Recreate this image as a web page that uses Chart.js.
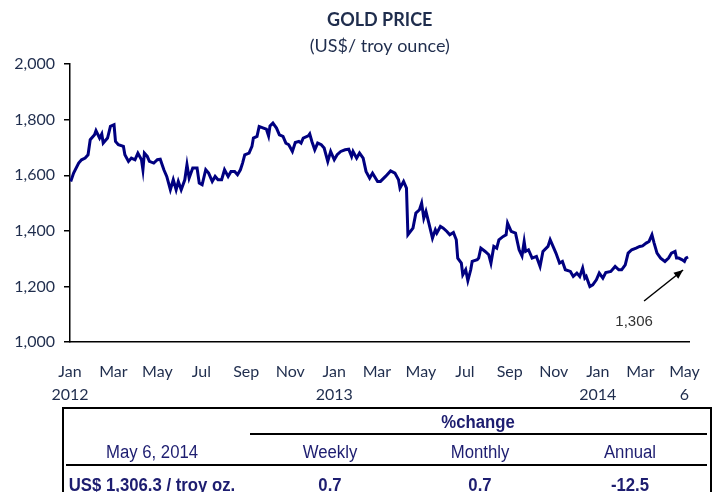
<!DOCTYPE html>
<html>
<head>
<meta charset="utf-8">
<script src="https://cdn.jsdelivr.net/npm/chart.js@4"></script>
<style>
  body { margin: 0; background: #fff; }
  #wrap { position: relative; width: 718px; height: 492px; overflow: hidden; }
  #myChart { position: absolute; left: 0; top: 0; }
  #box { position: absolute; left: 62px; top: 407px; width: 646px; height: 100px;
         border: 2px solid #000; border-bottom: none; }
  .rule { position: absolute; height: 0; border-top: 2px solid #000; }
  .cell { position: absolute; width: 200px; margin-left: -100px; text-align: center;
          font-family: 'Liberation Sans Narrow', 'Arial Narrow', 'Liberation Sans', sans-serif;
          font-size: 18px; color: #1d1d70; white-space: nowrap; transform: scaleX(0.93); }
  .bold { font-weight: bold; }
</style>
</head>
<body>
<div id="wrap">
  <canvas id="myChart" width="718" height="408"></canvas>
  <div id="box"></div>
  <div id="table"></div>
</div>
<script>
// days counted from 1 Jan 2012, gold price in US$ per troy ounce
var days = [1,5,12,16,21,25,28,34,36,41,44,46,52,56,61,63,67,74,76,81,85,90,94,99,101,103,107,110,116,121,125,130,134,139,143,147,150,154,159,162,165,170,176,179,183,188,192,197,201,205,210,214,219,223,228,232,236,239,242,248,252,254,259,262,268,272,275,277,281,286,290,295,299,303,308,312,317,320,323,330,332,335,339,343,348,352,357,361,366,370,375,381,386,390,392,397,401,406,410,415,419,426,430,437,444,450,455,457,462,466,468,475,479,484,487,490,493,497,502,506,508,513,517,522,526,531,535,537,542,544,548,551,555,557,564,566,569,575,580,583,587,591,594,600,604,606,611,617,622,626,629,631,635,640,646,651,655,662,665,669,673,678,682,686,693,697,702,706,710,713,715,720,724,729,733,738,742,749,755,760,764,769,773,778,784,789,793,798,802,806,809,813,818,824,829,833,838,840,843,848,851,853,856];
var prices = [1578,1608,1644,1656,1662,1674,1728,1746,1761,1734,1749,1716,1734,1776,1782,1722,1710,1704,1674,1650,1662,1656,1680,1656,1620,1680,1668,1650,1644,1656,1658,1620,1596,1548,1584,1548,1578,1548,1584,1638,1590,1626,1626,1572,1566,1620,1608,1578,1596,1584,1584,1620,1596,1614,1614,1602,1620,1644,1674,1680,1704,1734,1740,1776,1770,1766,1742,1778,1788,1770,1746,1740,1716,1710,1686,1718,1722,1716,1734,1742,1749,1722,1692,1716,1710,1698,1650,1686,1656,1674,1686,1692,1694,1668,1686,1662,1680,1662,1614,1590,1608,1578,1578,1596,1616,1608,1584,1554,1578,1554,1386,1410,1464,1476,1500,1446,1470,1428,1374,1404,1392,1416,1410,1398,1386,1394,1368,1302,1284,1242,1260,1221,1260,1290,1296,1302,1338,1326,1314,1284,1344,1338,1368,1380,1386,1428,1398,1392,1332,1310,1362,1326,1332,1302,1308,1272,1326,1344,1368,1344,1320,1284,1290,1260,1254,1236,1248,1236,1266,1230,1236,1200,1206,1224,1248,1230,1250,1254,1272,1260,1260,1278,1320,1332,1338,1344,1346,1356,1362,1386,1356,1320,1302,1290,1302,1320,1326,1302,1302,1296,1290,1302,1306];

// x-axis labels: first day of every second month
var tickDays = [0, 60, 121, 182, 244, 305, 366, 425, 486, 547, 609, 670, 731, 790, 851];
var tickMonths = ['Jan','Mar','May','Jul','Sep','Nov','Jan','Mar','May','Jul','Sep','Nov','Jan','Mar','May'];
var tickYears = ['2012','','','','','','2013','','','','','','2014','','6'];

// summary table
var tableDate = 'May 6, 2014';
var tableLevel = 'US$ 1,306.3 / troy oz.';
var changeHeads = ['Weekly', 'Monthly', 'Annual'];
var changeValues = ['0.7', '0.7', '-12.5'];

var textColor = '#1f2d4d';

var points = days.map(function (d, i) { return {x: d, y: prices[i]}; });

// arrow + label pointing at the last price
var lastLabel = {
    id: 'lastLabel',
    afterDatasetsDraw: function (chart) {
        var meta = chart.getDatasetMeta(0);
        var pt = meta.data[meta.data.length - 1];
        var c = chart.ctx;
        var tipX = pt.x - 5, tipY = pt.y + 13;
        var tailX = pt.x - 44, tailY = pt.y + 44;
        c.save();
        c.strokeStyle = '#000';
        c.fillStyle = '#000';
        c.lineWidth = 1.5;
        c.beginPath();
        c.moveTo(tailX, tailY);
        c.lineTo(tipX, tipY);
        c.stroke();
        var ang = Math.atan2(tipY - tailY, tipX - tailX);
        c.beginPath();
        c.moveTo(tipX, tipY);
        c.lineTo(tipX - 10 * Math.cos(ang - 0.4), tipY - 10 * Math.sin(ang - 0.4));
        c.lineTo(tipX - 10 * Math.cos(ang + 0.4), tipY - 10 * Math.sin(ang + 0.4));
        c.closePath();
        c.fill();
        c.font = '15px "Liberation Sans", Arial, sans-serif';
        c.fillStyle = '#333';
        c.textAlign = 'center';
        c.textBaseline = 'middle';
        c.fillText(prices[prices.length - 1].toLocaleString('en-US'), pt.x - 54, pt.y + 65);
        c.restore();
    }
};

var ctx = document.getElementById('myChart').getContext('2d');
var myChart = new Chart(ctx, {
    type: 'line',
    data: {
        datasets: [{
            label: 'Gold price',
            data: points,
            borderColor: '#000080',
            borderWidth: 3,
            pointRadius: 0,
            fill: false,
            tension: 0
        }]
    },
    options: {
        responsive: false,
        animation: false,
        layout: { padding: { left: 0, right: 4, top: 0, bottom: 0 } },
        plugins: {
            legend: { display: false },
            tooltip: { enabled: false },
            title: {
                display: true,
                text: 'GOLD PRICE',
                fullSize: false,
                color: textColor,
                font: { family: 'Lato', size: 18, weight: 'bold', lineHeight: 1.2 },
                padding: { top: 9, bottom: 5 }
            },
            subtitle: {
                display: true,
                text: '(US$/ troy ounce)',
                fullSize: false,
                color: textColor,
                font: { family: 'Lato', size: 18, lineHeight: 1.2 },
                padding: { top: 0, bottom: 7 }
            }
        },
        scales: {
            x: {
                type: 'linear',
                min: 0,
                max: 858,
                afterBuildTicks: function (scale) {
                    scale.ticks = tickDays.map(function (d) { return {value: d}; });
                },
                afterFit: function (scale) { scale.height = 66; },
                ticks: {
                    autoSkip: false,
                    maxRotation: 0,
                    padding: 18,
                    color: textColor,
                    font: { family: 'Lato', size: 16, lineHeight: 1.45 },
                    callback: function (value) {
                        var i = tickDays.indexOf(value);
                        if (i < 0) return '';
                        return tickYears[i] ? [tickMonths[i], tickYears[i]] : tickMonths[i];
                    }
                },
                grid: { display: false, drawTicks: false },
                border: { display: true, color: '#000', width: 1.5 }
            },
            y: {
                min: 1000,
                max: 2000,
                afterFit: function (scale) { scale.width = 70; },
                ticks: {
                    stepSize: 200,
                    padding: 9,
                    color: textColor,
                    font: { family: 'Lato', size: 16 },
                    callback: function (v) { return v.toLocaleString('en-US'); }
                },
                grid: { drawOnChartArea: false, drawTicks: true, tickLength: 6, color: '#000', lineWidth: 1.5 },
                border: { display: true, color: '#000', width: 1.5 }
            }
        }
    },
    plugins: [lastLabel]
});

// table under the chart
var table = document.getElementById('table');
function addCell(text, x, y, bold) {
    var d = document.createElement('div');
    d.className = 'cell' + (bold ? ' bold' : '');
    d.style.left = x + 'px';
    d.style.top = y + 'px';
    d.textContent = text;
    table.appendChild(d);
}
function addRule(x1, x2, y) {
    var d = document.createElement('div');
    d.className = 'rule';
    d.style.left = x1 + 'px';
    d.style.width = (x2 - x1) + 'px';
    d.style.top = y + 'px';
    table.appendChild(d);
}
var colX = [330, 480, 630];
addCell('%change', 478, 412, true);
addRule(250, 707, 433);
addCell(tableDate, 152, 442, false);
changeHeads.forEach(function (h, i) { addCell(h, colX[i], 442, false); });
addRule(66, 707, 464);
addCell(tableLevel, 152, 475, true);
changeValues.forEach(function (v, i) { addCell(v, colX[i], 475, true); });
</script>
</body>
</html>
